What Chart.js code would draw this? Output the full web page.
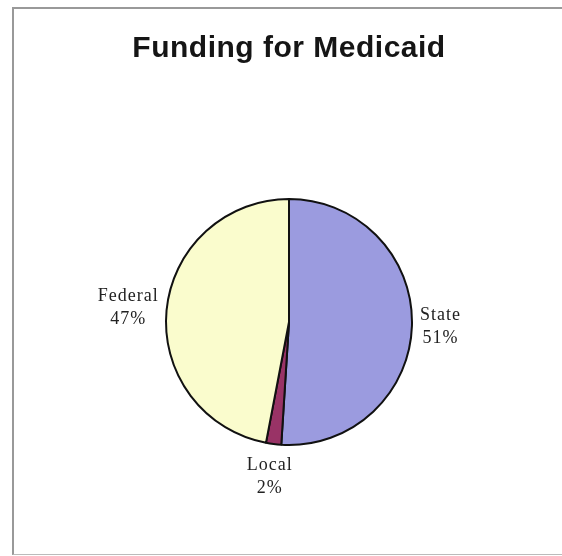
<!DOCTYPE html>
<html>
<head>
<meta charset="utf-8">
<script src="https://cdn.jsdelivr.net/npm/chart.js@4"></script>
<style>
  body { margin: 0; background: #fff; }
  #frame {
    position: absolute; left: 12px; top: 7px; width: 560px; height: 545px;
    border-left: 2px solid #999; border-top: 2px solid #999; border-bottom: 1px solid #bbb;
  }
  #fundingChart { position: absolute; left: 0; top: 0; }
</style>
</head>
<body>
<div id="frame"></div>
<canvas id="fundingChart" width="562" height="556"></canvas>
<script>
const sources = ["State", "Local", "Federal"];
const shares = [51, 2, 47];
const sliceColors = ["#9b9bdf", "#993366", "#fafccd"];

// the title in the picture is slightly spread out
const titleSpacing = {
  id: "titleSpacing",
  beforeDraw(chart) {
    chart.ctx.letterSpacing = "0.5px";
  },
  beforeDatasetsDraw(chart) {
    chart.ctx.letterSpacing = "0px";
  },
};

// draws "Name / NN%" outside each slice, pushed away along its middle angle
const outsideLabels = {
  id: "outsideLabels",
  afterDatasetsDraw(chart) {
    const ctx = chart.ctx;
    const meta = chart.getDatasetMeta(0);
    ctx.save();
    ctx.font = "18px 'Liberation Serif', 'Times New Roman', serif";
    ctx.letterSpacing = "1px";
    ctx.fillStyle = "#222";
    ctx.textAlign = "center";
    ctx.textBaseline = "middle";
    meta.data.forEach((arc, i) => {
      const { x, y, startAngle, endAngle, outerRadius } = arc.getProps(
        ["x", "y", "startAngle", "endAngle", "outerRadius"], true);
      const mid = (startAngle + endAngle) / 2;
      const dx = Math.cos(mid), dy = Math.sin(mid);
      const ax = x + dx * (outerRadius + 8);
      const ay = y + dy * (outerRadius + 8);
      const lines = [chart.data.labels[i], shares[i] + "%"];
      const w = Math.max(...lines.map((t) => ctx.measureText(t).width));
      const cx = ax + dx * w / 2;
      const cy = ay + dy * 25;
      ctx.fillText(lines[0], cx, cy - 11.5);
      ctx.fillText(lines[1], cx, cy + 11.5);
    });
    ctx.restore();
  },
};

new Chart(document.getElementById("fundingChart"), {
  type: "pie",
  data: {
    labels: sources,
    datasets: [
      {
        data: shares,
        backgroundColor: sliceColors,
        borderColor: "#111",
        borderWidth: 2,
        radius: 123,
      },
    ],
  },
  options: {
    responsive: false,
    animation: false,
    layout: { padding: { left: 16, right: 0, top: 0, bottom: 0 } },
    plugins: {
      legend: { display: false },
      tooltip: { enabled: false },
      title: {
        display: true,
        text: "Funding for Medicaid",
        color: "#151515",
        font: { family: "'Liberation Sans', Arial, sans-serif", size: 30, weight: "bold", lineHeight: 1.2 },
        padding: { top: 31, bottom: 21 },
      },
    },
  },
  plugins: [titleSpacing, outsideLabels],
});
</script>
</body>
</html>
